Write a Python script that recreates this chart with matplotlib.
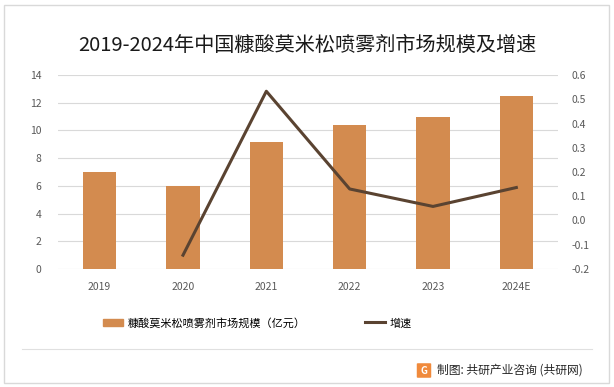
import matplotlib
matplotlib.use("Agg")
import matplotlib.pyplot as plt
from matplotlib.patches import Rectangle, FancyBboxPatch
from matplotlib.lines import Line2D
import numpy as np

plt.rcParams["font.family"] = ["Noto Sans CJK SC", "DejaVu Sans"]

years = ["2019", "2020", "2021", "2022", "2023", "2024E"]
market_size = [7.0, 6.0, 9.2, 10.4, 11.0, 12.5]
growth_years = ["2020", "2021", "2022", "2023", "2024E"]
growth = [-0.143, 0.533, 0.130, 0.058, 0.136]
left_ticks = [0, 2, 4, 6, 8, 10, 12, 14]
right_ticks = [-0.2, -0.1, 0.0, 0.1, 0.2, 0.3, 0.4, 0.5, 0.6]

bar_color = "#D38B4F"
line_color = "#5A4331"
grid_color = "#D9D9D9"
text_color = "#595959"

W, H = 614, 387
fig = plt.figure(figsize=(W / 100, H / 100), dpi=100)
fig.patch.set_facecolor("white")

# outer frame
fig.add_artist(Rectangle((4 / W, 4 / H), 605 / W, 378 / H, transform=fig.transFigure,
                         fill=False, edgecolor="#D9D9D9", linewidth=1))

ax = fig.add_axes([58 / W, (H - 269) / H, 500 / W, 194 / H])
x = np.arange(len(years))
ax.bar(x, market_size, width=0.4, color=bar_color, zorder=2)
ax.set_xlim(-0.5, len(years) - 0.5)
ax.set_ylim(0, 14)
ax.set_yticks(left_ticks)
ax.yaxis.grid(True, color=grid_color, linewidth=0.8, zorder=0)
ax.set_axisbelow(True)
for s in ax.spines.values():
    s.set_visible(False)
ax.tick_params(axis="both", length=0, labelsize=7.5, labelcolor=text_color)
ax.tick_params(axis="y", pad=12)
ax.tick_params(axis="x", pad=9)
ax.set_xticks(x)
ax.set_xticklabels(years)

ax2 = ax.twinx()
gx = [years.index(y) for y in growth_years]
ax2.plot(gx, growth, color=line_color, linewidth=2.2, zorder=3)
ax2.set_ylim(-0.2, 0.6)
ax2.set_yticks(right_ticks)
ax2.set_yticklabels([f"{v:.1f}" for v in right_ticks])
for s in ax2.spines.values():
    s.set_visible(False)
ax2.tick_params(axis="y", length=0, labelsize=7.5, labelcolor=text_color, pad=10)

fig.text(0.5, (H - 45) / H, "2019-2024年中国糠酸莫米松喷雾剂市场规模及增速",
         ha="center", va="center", fontsize=14.5, color="#1a1a1a")

handles = [Rectangle((0, 0), 1, 1, color=bar_color),
           Line2D([0], [0], color=line_color, linewidth=2.2)]
fig.legend(handles, ["糠酸莫米松喷雾剂市场规模（亿元）", "增速"], loc="center left",
           bbox_to_anchor=(93 / W, (H - 323) / H), ncol=2, frameon=False,
           fontsize=8, handlelength=1.8, handletextpad=0.4, columnspacing=5.4)

# separator line
fig.add_artist(Line2D([22 / W, 592 / W], [(H - 349) / H] * 2, transform=fig.transFigure,
                      color="#E0E0E0", linewidth=0.8))

# source logo and text
fig.add_artist(FancyBboxPatch((418 / W, (H - 377) / H), 12 / W, 13 / H,
                              boxstyle="round,pad=0.002", transform=fig.transFigure,
                              facecolor="#F08A3C", edgecolor="none"))
fig.text(424 / W, (H - 370.5) / H, "G", ha="center", va="center", fontsize=7,
         color="white", fontweight="bold")
fig.text(437 / W, (H - 370) / H, "制图: 共研产业咨询 (共研网)", ha="left", va="center",
         fontsize=8.5, color="#262626")

fig.savefig("out.png", dpi=100)
